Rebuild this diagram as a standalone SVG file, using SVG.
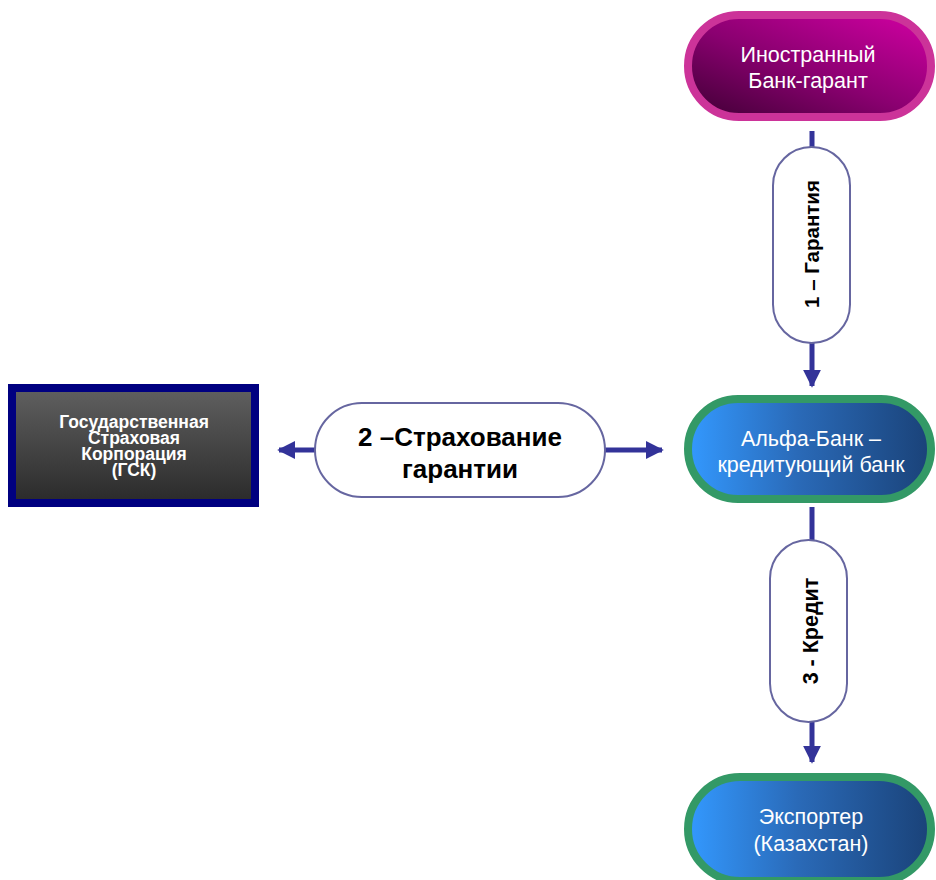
<svg xmlns="http://www.w3.org/2000/svg" width="936" height="880" viewBox="0 0 936 880">
<defs>
<linearGradient id="gMag" x1="0.95" y1="0.1" x2="0.15" y2="0.95">
<stop offset="0" stop-color="#c8009c"/>
<stop offset="0.55" stop-color="#8a0070"/>
<stop offset="1" stop-color="#4e0040"/>
</linearGradient>
<linearGradient id="gBlue" x1="0" y1="0" x2="1" y2="0">
<stop offset="0" stop-color="#3399ff"/>
<stop offset="0.45" stop-color="#2a6ab8"/>
<stop offset="1" stop-color="#1a4278"/>
</linearGradient>
<linearGradient id="gGrey" x1="0" y1="0" x2="0" y2="1">
<stop offset="0" stop-color="#606060"/>
<stop offset="1" stop-color="#2a2a2a"/>
</linearGradient>
<marker id="arr" viewBox="0 0 10 10" refX="9" refY="5" markerWidth="3.6" markerHeight="3.6" orient="auto" markerUnits="strokeWidth">
<path d="M0,0 L10,5 L0,10 z" fill="#333399"/>
</marker>
</defs>
<style>
.conn{stroke:#333399;stroke-width:5;fill:none}
.pill{fill:#ffffff;stroke:#6666a0;stroke-width:2}
.lbl{font-family:"Liberation Sans",Arial,sans-serif;font-weight:bold;fill:#000000;text-anchor:middle}
.ntxt{font-family:"Liberation Sans",Arial,sans-serif;fill:#ffffff;font-size:21.5px;text-anchor:middle}
.gtxt{font-family:"Liberation Sans",Arial,sans-serif;fill:#ffffff;font-size:17.5px;font-weight:bold;text-anchor:middle}
</style>
<rect width="936" height="880" fill="#ffffff"/>
<g id="connectors">
<line class="conn" x1="812" y1="131" x2="812" y2="386" marker-end="url(#arr)"/>
<line class="conn" x1="812" y1="507" x2="812" y2="762" marker-end="url(#arr)"/>
<line class="conn" x1="460" y1="450" x2="279" y2="450" marker-end="url(#arr)"/>
<line class="conn" x1="460" y1="450" x2="662" y2="450" marker-end="url(#arr)"/>
</g>
<g id="label1">
<rect class="pill" x="773" y="147" width="77" height="196" rx="38.5"/>
<text class="lbl" font-size="20.5" transform="translate(819,244) rotate(-90)">1 – Гарантия</text>
</g>
<g id="label3">
<rect class="pill" x="770" y="540" width="77" height="182" rx="38.5"/>
<text class="lbl" font-size="21.5" transform="translate(818,631) rotate(-90)">3 - Кредит</text>
</g>
<g id="label2">
<rect class="pill" x="315" y="403" width="290" height="94" rx="47"/>
<text class="lbl" font-size="26" x="460" y="446">2 –Страхование</text>
<text class="lbl" font-size="26" x="460" y="478">гарантии</text>
</g>
<g id="node-foreign-bank">
<rect x="688" y="15" width="243" height="102" rx="51" fill="url(#gMag)" stroke="#cc3399" stroke-width="8"/>
<text class="ntxt" x="808" y="62">Иностранный</text>
<text class="ntxt" x="808" y="88">Банк-гарант</text>
</g>
<g id="node-alfa">
<rect x="688" y="399" width="243" height="100" rx="50" fill="url(#gBlue)" stroke="#339966" stroke-width="8"/>
<text class="ntxt" x="811" y="446">Альфа-Банк –</text>
<text class="ntxt" x="811" y="472">кредитующий банк</text>
</g>
<g id="node-exporter">
<rect x="688" y="777" width="243" height="104" rx="52" fill="url(#gBlue)" stroke="#339966" stroke-width="8"/>
<text class="ntxt" x="811" y="824">Экспортер</text>
<text class="ntxt" x="811" y="851">(Казахстан)</text>
</g>
<g id="node-gsk">
<rect x="12" y="388" width="243" height="115" fill="url(#gGrey)" stroke="#000080" stroke-width="8"/>
<text class="gtxt" x="134" y="428">Государственная</text>
<text class="gtxt" x="134" y="444">Страховая</text>
<text class="gtxt" x="134" y="460">Корпорация</text>
<text class="gtxt" x="134" y="476">(ГСК)</text>
</g>
</svg>
